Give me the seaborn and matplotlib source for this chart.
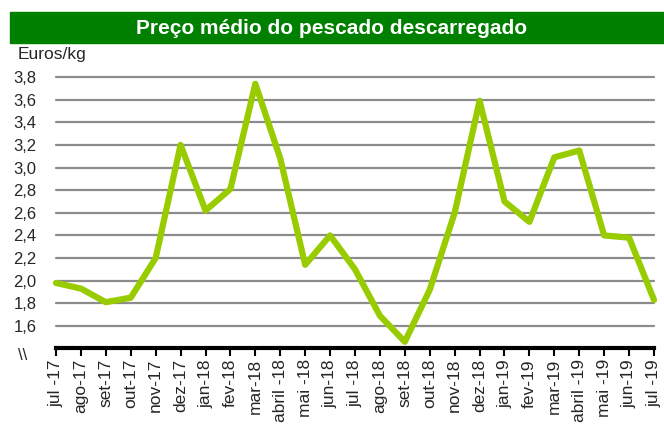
import numpy as np
import pandas as pd
import matplotlib
matplotlib.use('Agg')
import matplotlib.pyplot as plt
import seaborn as sns
from matplotlib.patches import Rectangle

# Dados (euros/kg)
meses = ['jul -17', 'ago-17', 'set-17', 'out-17', 'nov-17', 'dez-17',
         'jan-18', 'fev-18', 'mar-18', 'abril -18', 'mai -18', 'jun-18',
         'jul -18', 'ago-18', 'set-18', 'out-18', 'nov-18', 'dez-18',
         'jan-19', 'fev-19', 'mar-19', 'abril -19', 'mai -19', 'jun-19', 'jul -19']
preco = [1.98, 1.93, 1.81, 1.85, 2.20, 3.20,
         2.62, 2.81, 3.74, 3.08, 2.14, 2.40,
         2.10, 1.69, 1.46, 1.92, 2.60, 3.59,
         2.70, 2.52, 3.09, 3.15, 2.40, 2.38, 1.83]
y_ticks = [1.6, 1.8, 2.0, 2.2, 2.4, 2.6, 2.8, 3.0, 3.2, 3.4, 3.6, 3.8]

df = pd.DataFrame({'pos': np.arange(len(meses)), 'preco': preco})

sns.set_style('white')
plt.rcParams['font.family'] = ['Liberation Sans', 'DejaVu Sans']

fig = plt.figure(figsize=(6.64, 4.24), dpi=100)
ax = fig.add_axes([56 / 664, 1 - 348 / 424, 598 / 664, 271 / 424])

ax.set_ylim(1.405, 3.8)
ax.set_xlim(0, len(meses) - 1)
for v in y_ticks:
    ax.axhline(v, color='#8c8c8c', lw=1.6, zorder=1, clip_on=False)

sns.lineplot(data=df, x='pos', y='preco', color='#99cc00', lw=4.5, ax=ax,
             zorder=3, clip_on=False)

ax.set_yticks(y_ticks)
ax.set_yticklabels([f'{v:.1f}'.replace('.', ',') for v in y_ticks], fontsize=12)
ax.set_xticks(df['pos'])
ax.set_xticklabels(meses, rotation=90, fontsize=12.5)
ax.tick_params(axis='y', length=0, pad=14)
ax.tick_params(axis='x', bottom=True, length=6, width=1.5, color='black',
               direction='out', pad=2)
ax.set_xlabel('')
ax.set_ylabel('')
for s in ['top', 'right', 'left']:
    ax.spines[s].set_visible(False)
ax.spines['bottom'].set_linewidth(3)
ax.spines['bottom'].set_color('black')

# Faixa do título
fig.patches.append(Rectangle((10 / 664, 1 - 43 / 424), 654 / 664, 31 / 424,
                             transform=fig.transFigure, color='#008000', zorder=0))
fig.text(0.5, 1 - 28 / 424, 'Preço médio do pescado descarregado', color='white',
         fontsize=15, fontweight='bold', ha='center', va='center')
fig.text(18 / 664, 1 - 54 / 424, 'Euros/kg', fontsize=12.5, ha='left', va='center')
fig.text(18 / 664, 1 - 355 / 424, '\\\\', fontsize=12, ha='left', va='center')

fig.savefig('out.png', dpi=100)
